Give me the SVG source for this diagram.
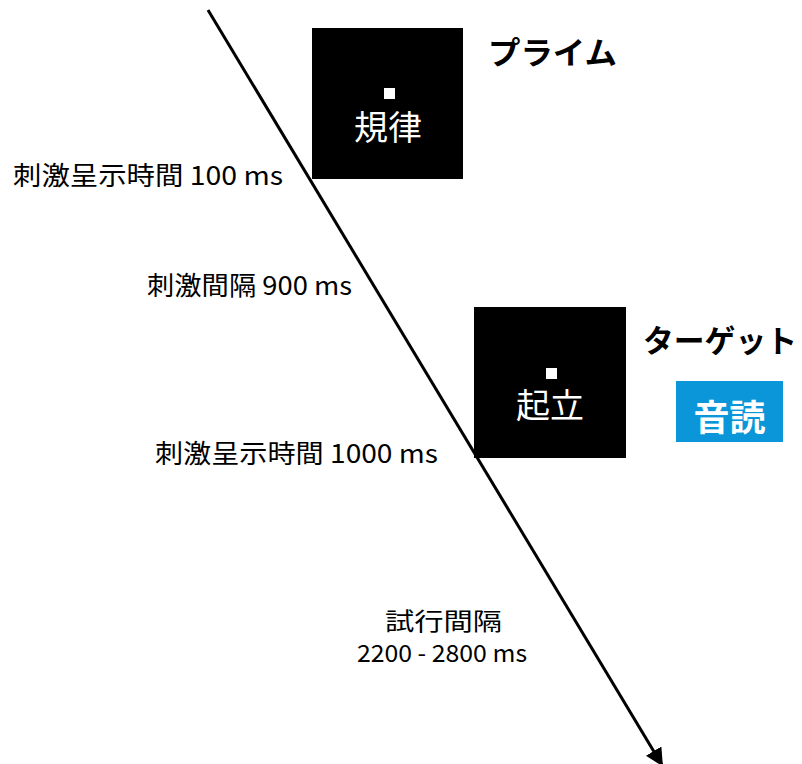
<svg xmlns="http://www.w3.org/2000/svg" width="802" height="764" viewBox="0 0 802 764">
<defs>
<style>
.lbl{font-family:"Noto Sans CJK JP","Liberation Sans",sans-serif;font-size:26px;fill:#000}
.sm{font-size:24px}
.head{font-family:"Noto Sans CJK JP",sans-serif;font-size:31px;font-weight:bold;fill:#000}
.stim{font-family:"Noto Sans CJK JP",sans-serif;font-size:34px;fill:#fff;text-anchor:middle}
.box{fill:#000}
.dot{fill:#fff}
</style>
<marker id="arr" viewBox="0 0 10 10" refX="9" refY="5" markerWidth="6" markerHeight="6" markerUnits="strokeWidth" orient="auto">
<path d="M0,0 L10,5 L0,10 z" fill="#000"/>
</marker>
</defs>
<rect width="802" height="764" fill="#fff"/>
<g id="connectors">
<line x1="208" y1="10" x2="662" y2="765" stroke="#000" stroke-width="3" marker-end="url(#arr)"/>
</g>
<g id="prime">
<rect class="box" x="312" y="28" width="151" height="151"/>
<rect class="dot" x="384" y="88" width="11" height="11"/>
<text class="stim" x="388" y="140">規律</text>
</g>
<g id="prime-label">
<text class="head" x="488" y="64" textLength="129" lengthAdjust="spacingAndGlyphs">プライム</text>
</g>
<g id="target">
<rect class="box" x="474" y="307" width="152" height="151"/>
<rect class="dot" x="546" y="368" width="11" height="11"/>
<text class="stim" x="550" y="418">起立</text>
</g>
<g id="target-label">
<text class="head" x="643" y="352" textLength="154" lengthAdjust="spacingAndGlyphs">ターゲット</text>
</g>
<g id="read">
<rect x="676" y="381" width="107" height="61" fill="#0a96d8"/>
<text x="729.5" y="431" font-family="Noto Sans CJK JP,sans-serif" font-size="36" font-weight="bold" fill="#fff" text-anchor="middle">音読</text>
</g>
<g id="labels">
<text class="lbl" x="13" y="185" textLength="270" lengthAdjust="spacingAndGlyphs">刺激呈示時間 100 ms</text>
<text class="lbl" x="147" y="295" textLength="205" lengthAdjust="spacingAndGlyphs">刺激間隔 900 ms</text>
<text class="lbl" x="155" y="463" textLength="283" lengthAdjust="spacingAndGlyphs">刺激呈示時間 1000 ms</text>
<text class="lbl sm" x="385" y="630" textLength="117" lengthAdjust="spacingAndGlyphs">試行間隔</text>
<text class="lbl sm" x="357" y="662" textLength="170" lengthAdjust="spacingAndGlyphs">2200 - 2800 ms</text>
</g>
</svg>
